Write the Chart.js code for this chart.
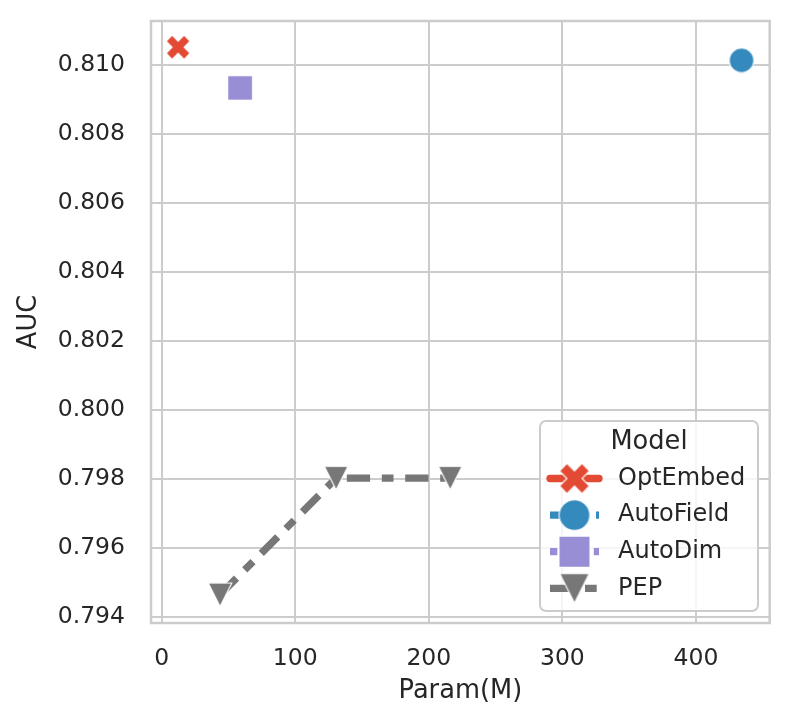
<!DOCTYPE html>
<html>
<head>
<meta charset="utf-8">
<script src="https://cdn.jsdelivr.net/npm/chart.js@4.4.0/dist/chart.umd.min.js"></script>
<style>
  html, body { margin: 0; padding: 0; background: #fff; }
  #wrap { width: 789px; height: 728px; }
</style>
</head>
<body>
<div id="wrap"><canvas id="chart" width="789" height="728"></canvas></div>
<script>
/* AUC vs Param(M) – scatter + PEP line, seaborn whitegrid look */
const INK = '#262626', GRID = '#cccccc';
const FONT = '"DejaVu Sans", sans-serif';

const MODELS = ['OptEmbed', 'AutoField', 'AutoDim', 'PEP'];
const COLORS = ['#E24A33', '#348ABD', '#988ED5', '#777777'];
const MARKERS = ['x', 'circle', 'square', 'tri'];

const OPTEMBED_PARAM = [12.3];
const OPTEMBED_AUC = [0.81052];
const AUTOFIELD_PARAM = [434.1];
const AUTOFIELD_AUC = [0.81014];
const AUTODIM_PARAM = [58.7];
const AUTODIM_AUC = [0.80934];
const PEP_PARAM = [43.7, 130.6, 216.0];
const PEP_AUC = [0.79465, 0.79803, 0.79803];

const X_TICKS = [0, 100, 200, 300, 400];
const Y_TICKS = [0.794, 0.796, 0.798, 0.800, 0.802, 0.804, 0.806, 0.808, 0.810];

// legend handle dash patterns (solid, dashed, dotted, dash-dot)
const DASHES = [[], [29, 17], [7.3, 7.3], [23.3, 11.7, 11.7, 11.7]];

function markerCanvas(kind, color, k) {
  const S = Math.ceil(30 * k);
  const c = document.createElement('canvas');
  c.width = S; c.height = S;
  const g = c.getContext('2d');
  g.translate(S / 2, S / 2);
  g.scale(k, k);
  g.fillStyle = color;
  g.strokeStyle = '#fff';
  g.lineWidth = 1.1 / k;
  g.beginPath();
  if (kind === 'x') {
    const u = 4.25;
    const pts = [[-1, -3], [1, -3], [1, -1], [3, -1], [3, 1], [1, 1], [1, 3], [-1, 3], [-1, 1], [-3, 1], [-3, -1], [-1, -1]];
    pts.forEach(([a, b], i) => {
      const px = (a - b) / Math.SQRT2 * u, py = (a + b) / Math.SQRT2 * u;
      i ? g.lineTo(px, py) : g.moveTo(px, py);
    });
    g.closePath();
  } else if (kind === 'circle') {
    g.arc(0, 0, 12.3, 0, Math.PI * 2);
  } else if (kind === 'square') {
    g.rect(-12.4, -12.4, 24.8, 24.8);
  } else {
    g.moveTo(0, 11.8); g.lineTo(-11.8, -11.8); g.lineTo(11.8, -11.8); g.closePath();
  }
  g.fill();
  g.stroke();
  return c;
}
const ICONS = MARKERS.map((m, i) => markerCanvas(m, COLORS[i], 1));
const LEGEND_ICONS = MARKERS.map((m, i) => markerCanvas(m, COLORS[i], 1.25));

const toPts = (xs, ys) => xs.map((x, i) => ({ x, y: ys[i] }));
const SERIES = [
  toPts(OPTEMBED_PARAM, OPTEMBED_AUC),
  toPts(AUTOFIELD_PARAM, AUTOFIELD_AUC),
  toPts(AUTODIM_PARAM, AUTODIM_AUC),
  toPts(PEP_PARAM, PEP_AUC),
];

const frame = {
  id: 'frame',
  afterDatasetsDraw(chart) {
    const { ctx, chartArea: a } = chart;
    ctx.save();
    ctx.strokeStyle = GRID; ctx.lineWidth = 2.5;
    ctx.strokeRect(a.left, a.top, a.right - a.left, a.bottom - a.top);
    ctx.restore();
  }
};

const legendBox = {
  id: 'legendBox',
  afterDraw(chart) {
    const ctx = chart.ctx;
    const L = 540, T = 421, R = 758, B = 611, r = 6;
    ctx.save();
    ctx.beginPath();
    ctx.roundRect(L, T, R - L, B - T, r);
    ctx.fillStyle = 'rgba(255,255,255,0.8)';
    ctx.fill();
    ctx.strokeStyle = GRID; ctx.lineWidth = 2;
    ctx.stroke();

    ctx.fillStyle = INK;
    ctx.textBaseline = 'middle';
    ctx.textAlign = 'center';
    ctx.font = '25.7px ' + FONT;
    ctx.fillText('Model', 649, 442);

    ctx.textAlign = 'left';
    ctx.font = '24px ' + FONT;
    MODELS.forEach((name, i) => {
      const y = 478.5 + i * 36.6;
      ctx.beginPath();
      ctx.strokeStyle = COLORS[i];
      ctx.lineWidth = 7.3;
      ctx.setLineDash(DASHES[i]);
      ctx.lineCap = i === 0 ? 'round' : 'butt';
      ctx.moveTo(550, y); ctx.lineTo(599, y);
      ctx.stroke();
      ctx.setLineDash([]);
      const ic = LEGEND_ICONS[i];
      ctx.drawImage(ic, 574.5 - ic.width / 2, y - ic.height / 2);
      ctx.fillStyle = INK;
      ctx.fillText(name, 618, y);
    });
    ctx.restore();
  }
};

const noPad = s => { s.paddingTop = 0; s.paddingBottom = 0; s.paddingLeft = 0; s.paddingRight = 0; };

new Chart('chart', {
  type: 'scatter',
  data: {
    datasets: SERIES.map((pts, i) => ({
      label: MODELS[i],
      data: pts,
      showLine: i === 3,
      borderColor: COLORS[i],
      borderWidth: 7.3,
      borderDash: i === 3 ? DASHES[3] : [],
      borderDashOffset: 0,
      tension: 0,
      pointStyle: ICONS[i],
      pointRadius: 12,
      pointHoverRadius: 12,
      backgroundColor: COLORS[i],
    }))
  },
  options: {
    responsive: false,
    animation: false,
    events: [],
    layout: { padding: { top: 21, right: 18.5, left: 0, bottom: 0 } },
    plugins: { legend: { display: false }, tooltip: { enabled: false } },
    scales: {
      x: {
        type: 'linear', min: -8, max: 455.2,
        afterBuildTicks: s => { s.ticks = X_TICKS.map(v => ({ value: v })); },
        afterFit: s => { s.height = 105; noPad(s); },
        grid: { color: GRID, lineWidth: 2, drawTicks: false },
        border: { display: false },
        ticks: { padding: 22, color: INK, font: { family: FONT, size: 23.5 }, callback: v => String(v) },
        title: { display: true, text: 'Param(M)', color: INK, font: { family: FONT, size: 25.7 }, padding: { top: 0, bottom: 21 } }
      },
      y: {
        type: 'linear', min: 0.79383, max: 0.81128,
        afterBuildTicks: s => { s.ticks = Y_TICKS.map(v => ({ value: v })); },
        afterFit: s => { s.width = 151; noPad(s); },
        grid: { color: GRID, lineWidth: 2, drawTicks: false },
        border: { display: false },
        ticks: { padding: 26, color: INK, font: { family: FONT, size: 23.5 }, callback: v => v.toFixed(3) },
        title: { display: true, text: 'AUC', color: INK, font: { family: FONT, size: 25.7 }, padding: { top: 14, bottom: 0 } }
      }
    }
  },
  plugins: [frame, legendBox]
});
</script>
</body>
</html>
